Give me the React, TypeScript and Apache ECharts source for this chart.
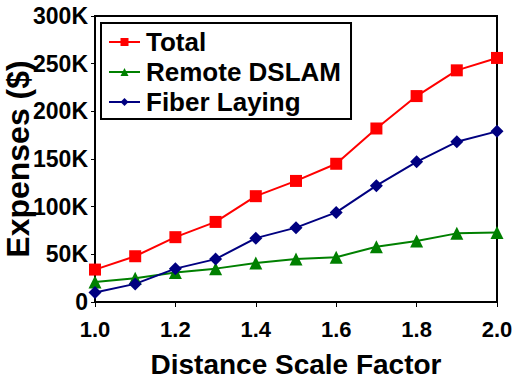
import React, { useEffect, useRef } from "react";
import * as echarts from "echarts";

const xValues = [1.0, 1.1, 1.2, 1.3, 1.4, 1.5, 1.6, 1.7, 1.8, 1.9, 2.0];
const totalValues = [34000, 48000, 68000, 84000, 111000, 127000, 145000, 182000, 216000, 243000, 256000];
const remoteValues = [21000, 25000, 31000, 35000, 41000, 45000, 47000, 58000, 64000, 72000, 73000];
const fiberValues = [10000, 19000, 35000, 45000, 67000, 78000, 94000, 122000, 147000, 168000, 179000];
const seriesNames = ["Total", "Remote DSLAM", "Fiber Laying"];
const yTitle = "Expenses ($)";

const FONT = "'Liberation Sans', Arial, Helvetica, sans-serif";

export default function App() {
  const ref = useRef<HTMLDivElement>(null);
  useEffect(() => {
    if (!ref.current) return;
    const chart = echarts.init(ref.current, undefined, { renderer: "svg" });
    const pair = (arr: number[]) => xValues.map((x, i) => [x, arr[i]]);
    chart.setOption({
      animation: false,
      backgroundColor: "#ffffff",
      grid: {
        left: 95,
        right: 23,
        top: 16,
        bottom: 88,
        containLabel: false,
        outerBoundsMode: "none",
        show: true,
        borderColor: "#000",
        borderWidth: 2,
      },
      graphic: [
        {
          type: "text",
          x: 18,
          y: 159,
          rotation: Math.PI / 2,
          style: {
            text: yTitle,
            fontFamily: FONT,
            fontWeight: "bold",
            fontSize: 32,
            fill: "#000",
            textAlign: "center",
            textVerticalAlign: "middle",
          },
        },
      ],
      legend: {
        orient: "vertical",
        left: 101,
        top: 23,
        padding: [6, 10, 4, 7],
        itemGap: 4,
        itemWidth: 31,
        itemHeight: 10,
        borderColor: "#000",
        borderWidth: 2,
        borderRadius: 0,
        backgroundColor: "#fff",
        textStyle: { fontFamily: FONT, fontWeight: "bold", fontSize: 26, color: "#000", padding: [0, 0, 0, 1] },
        data: seriesNames,
      },
      xAxis: {
        type: "value",
        min: 1,
        max: 2,
        interval: 0.2,
        name: "Distance Scale Factor",
        nameLocation: "middle",
        nameGap: 48,
        nameTextStyle: { fontFamily: FONT, fontWeight: "bold", fontSize: 28, color: "#000" },
        axisLine: { show: true, lineStyle: { color: "#000", width: 2 } },
        axisTick: { show: true, length: 5, lineStyle: { color: "#000", width: 1 } },
        splitLine: { show: false },
        axisLabel: {
          margin: 16,
          fontFamily: FONT,
          fontWeight: "bold",
          fontSize: 22,
          color: "#000",
          formatter: (v: number) => v.toFixed(1),
        },
      },
      yAxis: {
        type: "value",
        min: 0,
        max: 300000,
        interval: 50000,
        axisLine: { show: true, lineStyle: { color: "#000", width: 2 } },
        axisTick: { show: true, length: 4, lineStyle: { color: "#000", width: 1 } },
        splitLine: { show: false },
        axisLabel: {
          margin: 7,
          fontFamily: FONT,
          fontWeight: "bold",
          fontSize: 23,
          color: "#000",
          formatter: (v: number) => (v === 0 ? "0" : v / 1000 + "K"),
        },
      },
      series: [
        {
          name: seriesNames[0],
          type: "line",
          data: pair(totalValues),
          symbol: "rect",
          symbolSize: 12,
          color: "#ff0000",
          lineStyle: { width: 2, color: "#ff0000" },
          itemStyle: { color: "#ff0000" },
        },
        {
          name: seriesNames[1],
          type: "line",
          data: pair(remoteValues),
          symbol: "triangle",
          symbolSize: 13,
          color: "#008000",
          lineStyle: { width: 2, color: "#008000" },
          itemStyle: { color: "#008000" },
        },
        {
          name: seriesNames[2],
          type: "line",
          data: pair(fiberValues),
          symbol: "diamond",
          symbolSize: 13,
          color: "#000080",
          lineStyle: { width: 2, color: "#000080" },
          itemStyle: { color: "#000080" },
        },
      ],
    });
    return () => chart.dispose();
  }, []);
  return <div ref={ref} style={{ width: 520, height: 390, position: "absolute", left: 0, top: 0 }} />;
}
